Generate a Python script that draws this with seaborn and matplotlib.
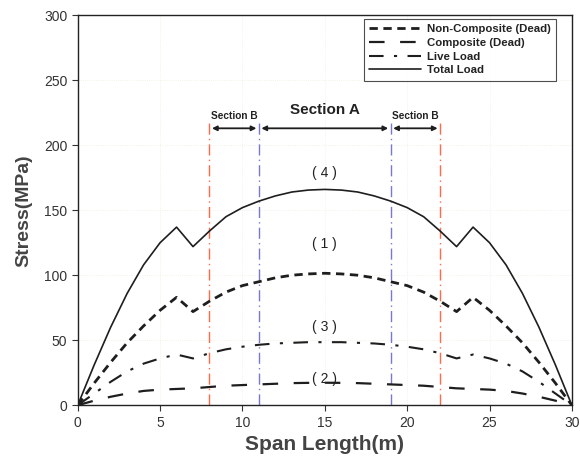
import numpy as np
import pandas as pd
import matplotlib
matplotlib.use("Agg")
import matplotlib.pyplot as plt
import seaborn as sns

span = list(range(0, 31))
half_total = [0, 31, 60, 86, 108, 125, 137, 122, 134, 145, 152, 157, 161, 164, 165.5, 166]
half_noncomp = [0, 17, 33, 48, 61, 73, 83, 72, 80, 87, 92, 95, 98, 100, 101, 101.5]
half_live = [0, 9, 18, 26, 32, 36, 39, 36, 40, 43, 45, 46.5, 47.5, 48, 48.5, 48.5]
half_comp = [0, 3.5, 6.5, 9, 11, 12, 12.5, 13, 14, 15, 15.5, 16, 16.5, 17, 17.2, 17.3]

def mirror(h):
    return h + h[-2::-1]

total_load = mirror(half_total)
non_composite = mirror(half_noncomp)
live_load = mirror(half_live)
composite = mirror(half_comp)

section_b_left = [8, 11]
section_a = [11, 19]
section_b_right = [19, 22]
red_lines = [8, 22]
blue_lines = [11, 19]
line_top = 220
curve_labels = ["( 4 )", "( 1 )", "( 3 )", "( 2 )"]
curve_label_y = [179, 124, 60, 20]

sns.set_style("ticks")
plt.rcParams['font.family'] = ['Liberation Sans', 'DejaVu Sans']

fig = plt.figure(figsize=(5.8, 4.61), dpi=100)
ax = fig.add_axes([0.134, 0.121, 0.852, 0.846])

for g in [5, 10, 15, 20, 25]:
    ax.axvline(g, color='#efefe0', lw=0.6, ls=':', zorder=0)
for g in [50, 100, 150, 200, 250]:
    ax.axhline(g, color='#efefe0', lw=0.6, ls=':', zorder=0)

df = pd.DataFrame({"x": span, "nc": non_composite, "c": composite,
                   "ll": live_load, "tl": total_load})
ink = '#1e1e1e'
sns.lineplot(data=df, x="x", y="nc", ax=ax, color=ink, lw=2.0,
             dashes=(3, 2), label="Non-Composite (Dead)")
sns.lineplot(data=df, x="x", y="c", ax=ax, color=ink, lw=1.6,
             dashes=(7, 7), label="Composite (Dead)")
sns.lineplot(data=df, x="x", y="ll", ax=ax, color=ink, lw=1.5,
             dashes=(7, 5, 1.5, 5), label="Live Load")
sns.lineplot(data=df, x="x", y="tl", ax=ax, color=ink, lw=1.2,
             label="Total Load")

for xv in red_lines:
    ax.plot([xv, xv], [0, line_top], color='#ff6a4a', lw=1.0, dashes=(8, 3, 1, 3), zorder=1)
for xv in blue_lines:
    ax.plot([xv, xv], [0, line_top], color='#7878d0', lw=1.0, dashes=(8, 3, 1, 3), zorder=1)

arrow_y = 213
for seg in [section_b_left, section_a, section_b_right]:
    ax.annotate("", xy=(seg[0] + 0.15, arrow_y), xytext=(seg[1] - 0.15, arrow_y),
                arrowprops=dict(arrowstyle='<|-|>', color='#1e1e1e', lw=1.3,
                                mutation_scale=7, shrinkA=0, shrinkB=0))
ax.text(np.mean(section_b_left), 219, "Section B", ha='center', va='bottom',
        fontsize=7.3, fontweight='bold', color='#222')
ax.text(np.mean(section_b_right), 219, "Section B", ha='center', va='bottom',
        fontsize=7.3, fontweight='bold', color='#222')
ax.text(np.mean(section_a), 222, "Section A", ha='center', va='bottom',
        fontsize=11, fontweight='bold', color='#222')

for lab, yv in zip(curve_labels, curve_label_y):
    ax.text(15, yv, lab, ha='center', va='center', fontsize=10, color='#222')

ax.set_xlim(0, 30)
ax.set_ylim(0, 300)
ax.set_xticks([0, 5, 10, 15, 20, 25, 30])
ax.set_yticks([0, 50, 100, 150, 200, 250, 300])
ax.tick_params(labelsize=10, colors='#333', length=4, width=0.8)
for s in ax.spines.values():
    s.set_color('#222')
    s.set_linewidth(1.0)
ax.set_xlabel("Span Length(m)", fontsize=15, fontweight='bold', color='#444', labelpad=4)
ax.set_ylabel("Stress(MPa)", fontsize=14, fontweight='bold', color='#444', labelpad=8)

leg = ax.legend(loc='upper right', bbox_to_anchor=(0.972, 0.996),
                prop={'weight': 'bold', 'size': 8.2}, frameon=True, fancybox=False,
                edgecolor='#222', handlelength=4.6, borderpad=0.45, labelspacing=0.33,
                handletextpad=0.5, borderaxespad=0.2)
leg.get_frame().set_linewidth(0.8)
for t in leg.get_texts():
    t.set_color('#222')

fig.savefig("out.png", dpi=100)
